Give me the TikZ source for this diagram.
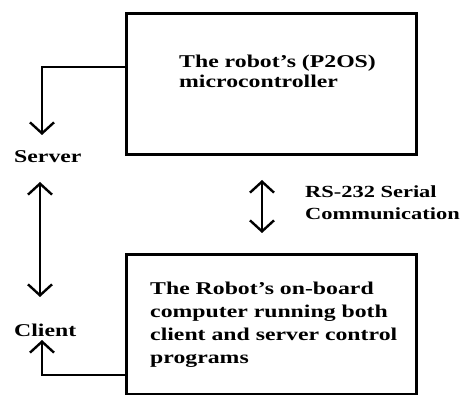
\documentclass[tikz,border=0pt]{standalone}
\usepackage{fontspec}
\setmainfont{Liberation Serif}[FakeStretch=1.32]
\usetikzlibrary{arrows.meta}
\begin{document}
\begin{tikzpicture}[x=1pt,y=-1pt,
  box/.style={draw,line width=2.6pt,inner sep=0pt},
  txt/.style={font=\fontsize{18}{23}\selectfont\bfseries,inner sep=0pt,align=left,anchor=base west},
  conn/.style={line width=2.4pt},
  tip/.style={-{Straight Barb[length=11pt,width=24pt,line width=2.4pt]}},
  dtip/.style={{Straight Barb[length=11pt,width=24pt,line width=2.4pt]}-{Straight Barb[length=11pt,width=24pt,line width=2.4pt]}}]
\useasboundingbox (0,0) rectangle (466,395);
\node[box,minimum width=290pt,minimum height=141pt,anchor=north west] (top) at (125,12) {};
\node[box,minimum width=290pt,minimum height=140pt,anchor=north west] (bot) at (125,253) {};
\node[txt] (ttxt) at (179,88) {The robot's (P2OS)\\[-3pt]microcontroller};
\node[txt] (btxt) at (150,363) {The Robot's on-board\\computer running both\\client and server control\\programs};
\node[txt] (server) at (14,163) {Server};
\node[txt] (client) at (14,337) {Client};
\node[txt,font=\fontsize{17}{23}\selectfont\bfseries] (rs) at (305,220) {RS-232 Serial\\[-1pt]Communication};
\coordinate (c1) at (42,67);
\coordinate (s1) at (42,135);
\coordinate (s2) at (40,182);
\coordinate (c2) at (40,297);
\coordinate (c3) at (42,375);
\coordinate (c4) at (42,340);
\coordinate (m1) at (262,180);
\coordinate (m2) at (262,233);
\draw[conn,tip] (top.west |- c1) -- (c1) -- (s1);
\draw[conn,dtip] (s2) -- (c2);
\draw[conn,tip] (bot.west |- c3) -- (c3) -- (c4);
\draw[conn,dtip] (m1) -- (m2);
\end{tikzpicture}
\end{document}
